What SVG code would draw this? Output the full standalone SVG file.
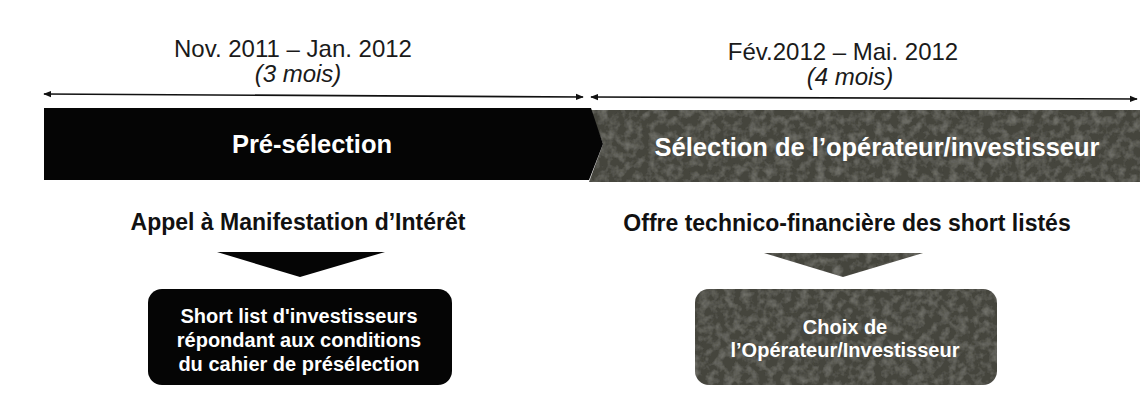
<svg xmlns="http://www.w3.org/2000/svg" width="1140" height="396" viewBox="0 0 1140 396">
<style>
text{font-family:"Liberation Sans",Arial,sans-serif;text-anchor:middle}
.date{font-size:24px;fill:#1a1a1a}
.dur{font-size:24px;font-style:italic;fill:#1a1a1a}
.phase{font-size:25.5px;font-weight:bold;fill:#fff}
.head{font-size:23px;font-weight:bold;fill:#111}
.box{font-size:20px;font-weight:bold;fill:#fff}
.conn{stroke:#111;stroke-width:1.6;fill:none;marker-start:url(#ah);marker-end:url(#ah)}
.grey{fill:#45443e;filter:url(#grain)}
.black{fill:#050505}
</style>
<defs>
<marker id="ah" viewBox="0 0 10 10" refX="9" refY="5" markerWidth="8" markerHeight="8" orient="auto-start-reverse" markerUnits="userSpaceOnUse">
<path d="M0,1 L10,5 L0,9 z" fill="#111"/>
</marker>
<filter id="grain" x="0" y="0" width="100%" height="100%">
<feTurbulence type="fractalNoise" baseFrequency="0.12" numOctaves="3" seed="4" result="n"/>
<feColorMatrix in="n" type="matrix" values="0 0 0 0 0.5  0 0 0 0 0.5  0 0 0 0 0.45  0 0 0 0.5 -0.2" result="nc"/>
<feComposite in="nc" in2="SourceAlpha" operator="in" result="nm"/>
<feMerge><feMergeNode in="SourceGraphic"/><feMergeNode in="nm"/></feMerge>
</filter>
</defs>
<rect width="1140" height="396" fill="#fff"/>
<g id="connectors">
<line class="conn" x1="44" y1="94" x2="583" y2="97"/>
<line class="conn" x1="591" y1="97" x2="1137" y2="99"/>
</g>
<g id="phase2">
<polygon class="grey" points="590,110 1140,110 1140,182 589,182 603,144"/>
<text class="phase" x="877" y="156">Sélection de l’opérateur/investisseur</text>
</g>
<g id="phase1">
<polygon class="black" points="44,108 591,108 603,144 589,180 44,180"/>
<text class="phase" x="312" y="153">Pré-sélection</text>
</g>
<g id="date1">
<text class="date" x="293" y="57">Nov. 2011 – Jan. 2012</text>
<text class="dur" x="298" y="82">(3 mois)</text>
</g>
<g id="date2">
<text class="date" x="843" y="60">Fév.2012 – Mai. 2012</text>
<text class="dur" x="850" y="85">(4 mois)</text>
</g>
<g id="head1">
<text class="head" x="298" y="230">Appel à Manifestation d’Intérêt</text>
<polygon class="black" points="217,252 385,252 300,277"/>
</g>
<g id="head2">
<text class="head" x="847" y="231">Offre technico-financière des short listés</text>
<polygon class="grey" points="764,253 923,253 843,277"/>
</g>
<g id="box1">
<rect class="black" x="148" y="289" width="304" height="96" rx="14"/>
<text class="box" x="299" y="323">Short list d'investisseurs</text>
<text class="box" x="299" y="347">répondant aux conditions</text>
<text class="box" x="299" y="371">du cahier de présélection</text>
</g>
<g id="box2">
<rect class="grey" x="695" y="289" width="302" height="96" rx="14"/>
<text class="box" x="845" y="334">Choix de</text>
<text class="box" x="845" y="357">l’Opérateur/Investisseur</text>
</g>
</svg>
